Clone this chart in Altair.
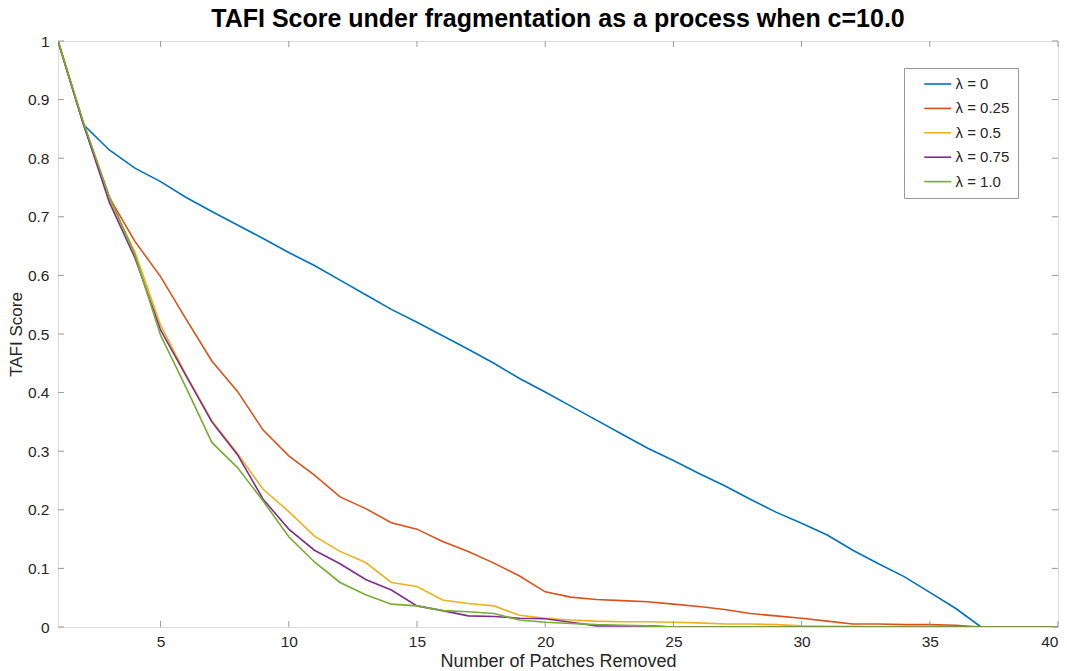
import altair as alt
import pandas as pd

patches = list(range(1, 41))
lam_labels = ["λ = 0", "λ = 0.25", "λ = 0.5", "λ = 0.75", "λ = 1.0"]
colors = ["#0072BD", "#D95319", "#EDB120", "#7E2F8E", "#77AC30"]

score_l000 = [1.0, 0.857, 0.814, 0.783, 0.760, 0.733, 0.709, 0.686, 0.663, 0.639,
              0.617, 0.592, 0.567, 0.542, 0.520, 0.497, 0.474, 0.450, 0.424, 0.401,
              0.377, 0.353, 0.329, 0.305, 0.284, 0.262, 0.241, 0.218, 0.196, 0.177,
              0.157, 0.131, 0.108, 0.086, 0.059, 0.032, 0.0, 0.0, 0.0, 0.0]
score_l025 = [1.0, 0.857, 0.733, 0.658, 0.598, 0.525, 0.454, 0.402, 0.336, 0.292,
              0.259, 0.222, 0.202, 0.178, 0.167, 0.146, 0.129, 0.109, 0.087, 0.060,
              0.051, 0.047, 0.045, 0.043, 0.039, 0.035, 0.030, 0.023, 0.019, 0.015,
              0.010, 0.005, 0.005, 0.004, 0.004, 0.003, 0.0, 0.0, 0.0, 0.0]
score_l050 = [1.0, 0.857, 0.730, 0.640, 0.515, 0.430, 0.352, 0.296, 0.235, 0.197,
              0.155, 0.129, 0.110, 0.076, 0.069, 0.046, 0.040, 0.036, 0.020, 0.015,
              0.012, 0.010, 0.009, 0.009, 0.008, 0.007, 0.005, 0.005, 0.004, 0.002,
              0.001, 0.001, 0.0, 0.0, 0.0, 0.0, 0.0, 0.0, 0.0, 0.0]
score_l075 = [1.0, 0.857, 0.725, 0.630, 0.507, 0.428, 0.350, 0.294, 0.218, 0.167,
              0.131, 0.108, 0.081, 0.063, 0.036, 0.028, 0.019, 0.018, 0.015, 0.014,
              0.008, 0.002, 0.002, 0.002, 0.0, 0.0, 0.0, 0.0, 0.0, 0.0,
              0.0, 0.0, 0.0, 0.0, 0.0, 0.0, 0.0, 0.0, 0.0, 0.0]
score_l100 = [1.0, 0.860, 0.735, 0.635, 0.498, 0.408, 0.315, 0.272, 0.215, 0.154,
              0.111, 0.076, 0.055, 0.039, 0.036, 0.028, 0.026, 0.023, 0.012, 0.008,
              0.006, 0.004, 0.003, 0.002, 0.0, 0.0, 0.0, 0.0, 0.0, 0.0,
              0.0, 0.0, 0.0, 0.0, 0.0, 0.0, 0.0, 0.0, 0.0, 0.0]

x_ticks = [5, 10, 15, 20, 25, 30, 35, 40]
y_ticks = [0, 0.1, 0.2, 0.3, 0.4, 0.5, 0.6, 0.7, 0.8, 0.9, 1.0]

series = [score_l000, score_l025, score_l050, score_l075, score_l100]
rows = []
for order, (lab, vals) in enumerate(zip(lam_labels, series)):
    for x, v in zip(patches, vals):
        rows.append({"patches": x, "score": v, "lambda": lab, "order": order})
df = pd.DataFrame(rows)

W, H = 1000, 586
FONT = "Liberation Sans"
AX = "#999999"
TXT = "#262626"

xscale = alt.Scale(domain=[1, 40], nice=False, zero=False)
yscale = alt.Scale(domain=[0, 1], nice=False, zero=False)

lines = alt.Chart(df).mark_line(strokeWidth=1.6, clip=True).encode(
    x=alt.X("patches:Q", scale=xscale,
            axis=alt.Axis(values=x_ticks, format="d", title="Number of Patches Removed",
                          tickSize=0, domain=False, grid=False, labelPadding=7,
                          titlePadding=3, labelFontSize=15.5, titleFontSize=18,
                          titleFontWeight="normal", labelColor=TXT, titleColor=TXT,
                          labelFont=FONT, titleFont=FONT)),
    y=alt.Y("score:Q", scale=yscale,
            axis=alt.Axis(values=y_ticks, format=".1~f", title="TAFI Score",
                          tickSize=0, domain=False, grid=False, labelPadding=9,
                          titlePadding=2, labelFontSize=15.5, titleFontSize=17,
                          titleFontWeight="normal", labelColor=TXT, titleColor=TXT,
                          labelFont=FONT, titleFont=FONT)),
    color=alt.Color("lambda:N", scale=alt.Scale(domain=lam_labels, range=colors),
                    legend=alt.Legend(orient="none", legendX=846, legendY=27, title=None,
                                      symbolType="M-2,0H2", symbolSize=182,
                                      symbolStrokeWidth=1.6, labelFontSize=15,
                                      labelFont=FONT, labelColor=TXT,
                                      strokeColor=AX, fillColor="white", padding=8,
                                      rowPadding=8.4, symbolOffset=17.75,
                                      labelOffset=9.75)),
    order=alt.Order("order:Q"),
)

xt = pd.DataFrame({"t": x_ticks})
yt = pd.DataFrame({"t": y_ticks})

bx = alt.Chart(xt).mark_rule(color=AX, strokeWidth=1).encode(
    x=alt.X("t:Q", scale=xscale), y=alt.value(H), y2=alt.value(H - 6))
tx = alt.Chart(xt).mark_rule(color=AX, strokeWidth=1).encode(
    x=alt.X("t:Q", scale=xscale), y=alt.value(0), y2=alt.value(6))
ly = alt.Chart(yt).mark_rule(color=AX, strokeWidth=1).encode(
    y=alt.Y("t:Q", scale=yscale), x=alt.value(0), x2=alt.value(6))
ry = alt.Chart(yt).mark_rule(color=AX, strokeWidth=1).encode(
    y=alt.Y("t:Q", scale=yscale), x=alt.value(W), x2=alt.value(W - 6))

chart = alt.layer(lines, bx, tx, ly, ry).properties(
    width=W, height=H,
    title=alt.Title("TAFI Score under fragmentation as a process when c=10.0",
                    fontSize=25, fontWeight="bold", font=FONT, anchor="middle",
                    offset=2, color="black"),
    autosize=alt.AutoSizeParams(type="none"),
    padding={"left": 58, "top": 41, "right": 9, "bottom": 44},
).configure_view(stroke=AX, strokeWidth=1).configure(background="white")

chart.save("out.html", embed_options={"renderer": "svg", "actions": False})
